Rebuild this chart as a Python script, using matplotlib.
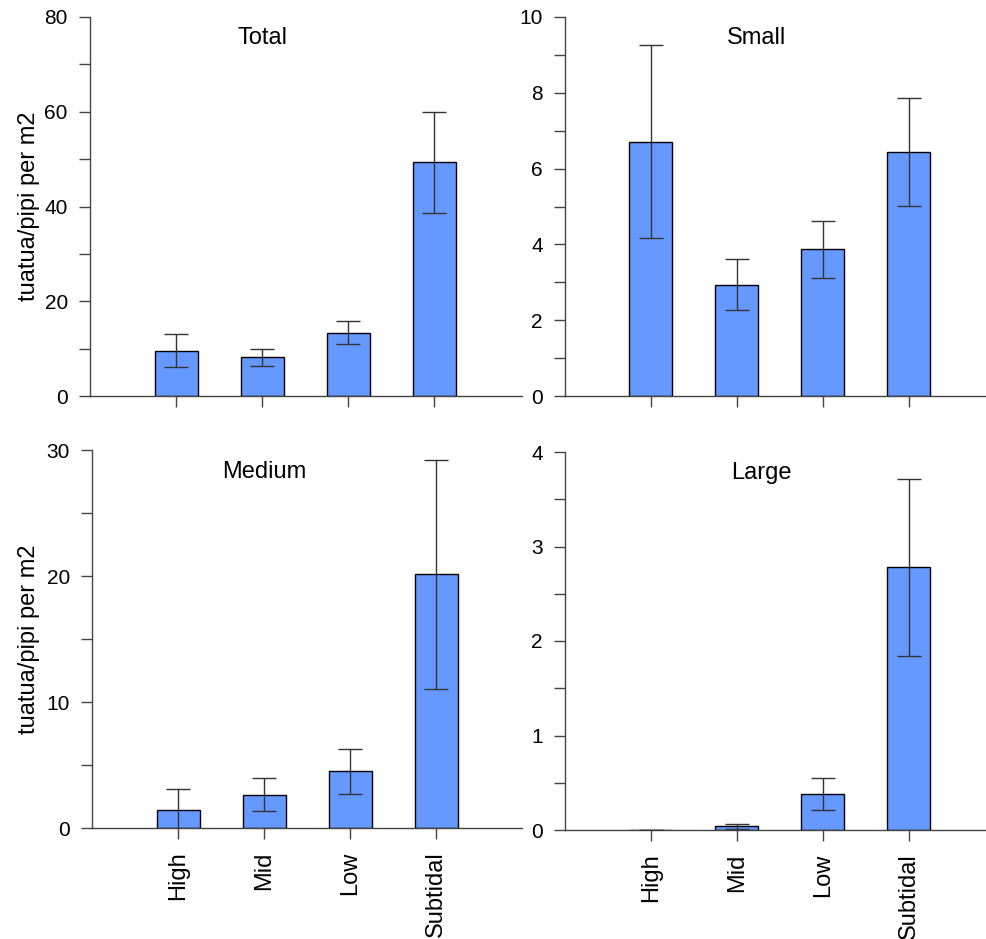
import numpy as np
import matplotlib
matplotlib.use("Agg")
import matplotlib.pyplot as plt
from matplotlib.ticker import MultipleLocator

plt.rcParams['font.family'] = ['Liberation Sans', 'DejaVu Sans']

# shore zones
zones = ["High", "Mid", "Low", "Subtidal"]

# mean density and standard error per size class
total_mean = [9.6, 8.2, 13.4, 49.3]
total_se = [3.5, 1.8, 2.45, 10.7]
small_mean = [6.71, 2.94, 3.87, 6.43]
small_se = [2.54, 0.68, 0.75, 1.42]
medium_mean = [1.45, 2.64, 4.49, 20.12]
medium_se = [1.62, 1.31, 1.78, 9.1]
large_mean = [0.0, 0.039, 0.38, 2.78]
large_se = [0.0, 0.025, 0.17, 0.935]

W, H = 987, 939
fig = plt.figure(figsize=(W / 100, H / 100), dpi=100)

def px_axes(left, top, right, bottom):
    return fig.add_axes([left / W, (H - bottom) / H, (right - left) / W, (bottom - top) / H])

panels = [
    # name, means, errors, ymax, major step, rect (px), xmax, title x, title y, left col, bottom row
    ("Total", total_mean, total_se, 80, 20, (90, 17, 522, 396), 5.02, 2.0, 0.945, True, False),
    ("Small", small_mean, small_se, 10, 2, (565, 17, 987, 396), 4.91, 2.23, 0.945, False, False),
    ("Medium", medium_mean, medium_se, 30, 10, (92, 450, 522, 828), 5.0, 2.0, 0.942, True, True),
    ("Large", large_mean, large_se, 4, 1, (565, 452, 987, 830), 4.91, 2.29, 0.944, False, True),
]

x = np.arange(1, len(zones) + 1)
bar_color = "#6699ff"
axis_color = "#444444"

for name, means, errs, ymax, step, rect, xmax, tx, ty, left_col, bottom_row in panels:
    ax = px_axes(*rect)
    ax.bar(x, means, width=0.5, color=bar_color, edgecolor="black", linewidth=1.0, zorder=2)
    ax.errorbar(x, means, yerr=errs, fmt="none", ecolor="#333333", elinewidth=1.0,
                capsize=8.5, capthick=1.0, zorder=3)
    ax.set_xlim(0, xmax)
    ax.set_ylim(0, ymax)
    ax.yaxis.set_major_locator(MultipleLocator(step))
    ax.yaxis.set_minor_locator(MultipleLocator(step / 2))
    ax.set_xticks(x)
    if bottom_row:
        ax.set_xticklabels(zones, rotation=90, fontsize=17)
    else:
        ax.set_xticklabels([])
    for s in ["top", "right"]:
        ax.spines[s].set_visible(False)
    for s in ["left", "bottom"]:
        ax.spines[s].set_color(axis_color)
        ax.spines[s].set_linewidth(1.0)
    ax.tick_params(axis="y", which="both", direction="out", length=8, width=1.0,
                   color=axis_color, labelsize=15, pad=8)
    ax.tick_params(axis="x", direction="out", length=8, width=1.0,
                   color=axis_color, pad=9)
    ax.text(tx, ty, name, transform=ax.get_xaxis_transform(), ha="center", va="center",
            fontsize=17)
    if left_col:
        ax.set_ylabel("tuatua/pipi per m2", fontsize=17)
        ax.yaxis.set_label_coords((40 - rect[0]) / (rect[2] - rect[0]), 0.5)

fig.savefig("out.png", dpi=100)
